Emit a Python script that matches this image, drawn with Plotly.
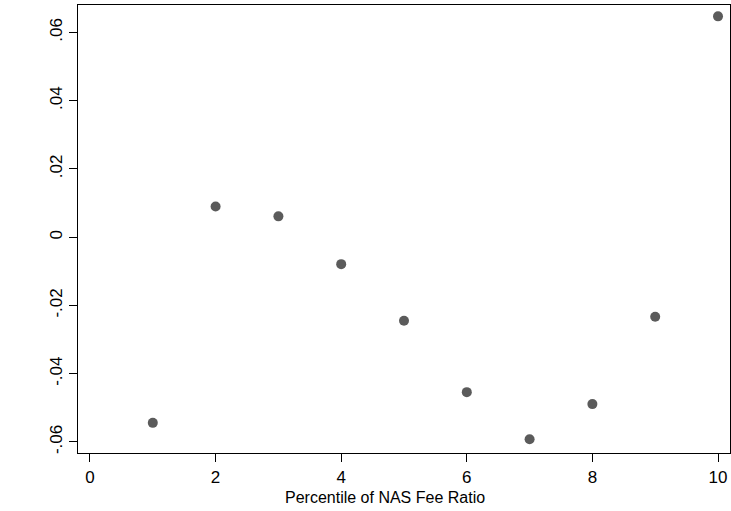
import plotly.graph_objects as go

percentile = [1, 2, 3, 4, 5, 6, 7, 8, 9, 10]
effect = [-0.0544, 0.0090, 0.0061, -0.0079, -0.0245, -0.0454, -0.0592, -0.0489, -0.0233, 0.0647]

x_ticks = [0, 2, 4, 6, 8, 10]
y_ticks = [-0.06, -0.04, -0.02, 0, 0.02, 0.04, 0.06]
y_labels = ["-.06", "-.04", "-.02", "0", ".02", ".04", ".06"]
x_title = "Percentile of NAS Fee Ratio"

fig = go.Figure(go.Scatter(
    x=percentile, y=effect, mode="markers",
    marker=dict(size=10, color="#5b5b5b"),
    showlegend=False, cliponaxis=False,
))

font = dict(family="Liberation Sans, Arial, sans-serif", size=17, color="black")

fig.update_layout(
    width=731, height=511,
    margin=dict(l=78, r=1.3, t=5.3, b=57.7, autoexpand=False),
    paper_bgcolor="white", plot_bgcolor="white",
    font=font,
    xaxis=dict(
        range=[-0.191, 10.191], tickvals=x_ticks, ticktext=[str(v) for v in x_ticks],
        ticks="outside", ticklen=8, tickwidth=1, tickcolor="black",
        showgrid=False, zeroline=False, automargin=False,
        showline=True, linecolor="black", linewidth=1.3, mirror=True,
        tickfont=dict(size=17),
    ),
    yaxis=dict(
        range=[-0.06323, 0.06803], tickvals=y_ticks, ticktext=y_labels,
        ticks="outside", ticklen=8, tickwidth=1, tickcolor="black",
        showgrid=False, zeroline=False, automargin=False,
        showline=True, linecolor="black", linewidth=1.3, mirror=True,
        tickangle=-90, tickfont=dict(size=17),
    ),
    annotations=[dict(
        text=x_title, xref="paper", yref="paper", x=0.471, y=-0.0752,
        xanchor="center", yanchor="top", showarrow=False,
        font=dict(size=16, color="black"),
    )],
)

fig.write_html("out.html", config={"displayModeBar": False, "staticPlot": True})

with open("out.html", "r", encoding="utf-8") as f:
    html = f.read()
html = html.replace("<head>", "<head><style>html,body{margin:0;padding:0;overflow:hidden;}</style>", 1)
with open("out.html", "w", encoding="utf-8") as f:
    f.write(html)
